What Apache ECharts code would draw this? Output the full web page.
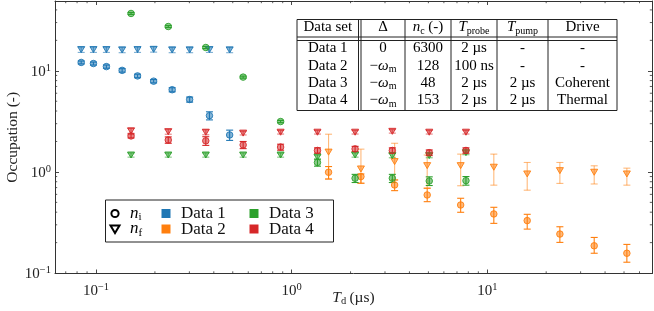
<!DOCTYPE html>
<html><head><meta charset="utf-8">
<script src="https://cdn.jsdelivr.net/npm/echarts@6/dist/echarts.min.js"></script>
<style>html,body{margin:0;padding:0;background:#fff}#c{width:654px;height:311px}</style>
</head><body><div id="c"></div>
<script>
// ---------- data ----------
const xMajorTicks = [0.1, 1, 10];
const yMajorTicks = [0.1, 1, 10];

// Data 1
const x1 = [0.084, 0.097, 0.113, 0.136, 0.163, 0.197, 0.245, 0.301, 0.380, 0.482];
const ni1 = [12.1, 11.8, 11.0, 10.1, 8.9, 7.9, 6.5, 5.2, 3.6, 2.32];
const ni1Err = [0.4, 0.4, 0.4, 0.4, 0.35, 0.3, 0.3, 0.3, 0.33, 0.27];
const nf1 = [16.2, 16.2, 16.2, 16.1, 16.2, 16.3, 16.1, 16.1, 16.2, 16.1];
const nf1Err = [1.0, 1.0, 1.0, 1.0, 1.0, 1.0, 1.0, 1.0, 1.0, 1.0];

// Data 2
const x2 = [1.544, 2.26, 3.36, 4.93, 7.31, 10.8, 16.0, 23.5, 35.2, 51.7];
const ni2 = [0.993, 0.899, 0.743, 0.592, 0.471, 0.384, 0.330, 0.243, 0.186, 0.157];
const ni2Lo = [0.85, 0.773, 0.653, 0.508, 0.399, 0.31, 0.272, 0.201, 0.157, 0.128];
const ni2Hi = [1.13, 0.955, 0.833, 0.69, 0.549, 0.447, 0.381, 0.287, 0.225, 0.192];
const nf2 = [1.57, 1.07, 1.265, 1.154, 1.154, 1.113, 0.955, 1.03, 0.993, 0.955];
const nf2Lo = [0.853, 0.773, 0.833, 0.69, 0.73, 0.74, 0.66, 0.77, 0.76, 0.74];
const nf2Hi = [2.36, 1.68, 1.92, 1.47, 1.50, 1.50, 1.24, 1.24, 1.15, 1.09];

// Data 3 and Data 4 (same delays)
const x34 = [0.151, 0.234, 0.364, 0.565, 0.878, 1.355, 2.11, 3.27, 5.05, 7.78];
const ni3 = [36.9, 27.4, 17.0, 8.66, 3.15, 1.24, 0.866, 0.866, 0.814, 0.82];
const ni3Err = [0.8, 0.6, 0.4, 0.2, 0.08, 0.1, 0.08, 0.08, 0.08, 0.08];
const nf3 = [1.47, 1.47, 1.47, 1.47, 1.47, 1.40, 1.47, 1.45, 1.45, 1.55];
const nf3Err = [0.07, 0.07, 0.07, 0.07, 0.07, 0.07, 0.07, 0.07, 0.07, 0.07];
const ni4 = [2.27, 2.07, 2.03, 1.85, 1.76, 1.63, 1.69, 1.63, 1.55, 1.63];
const ni4Err = [0.1, 0.15, 0.2, 0.15, 0.12, 0.1, 0.1, 0.1, 0.1, 0.1];
const nf4 = [2.55, 2.50, 2.47, 2.42, 2.47, 2.47, 2.47, 2.52, 2.47, 2.47];
const nf4Err = [0.14, 0.14, 0.14, 0.1, 0.1, 0.1, 0.1, 0.1, 0.1, 0.1];

// table
const tableHeader = ['Data set', 'Δ', 'n_c (-)', 'T_probe', 'T_pump', 'Drive'];
const tableRows = [
  ['Data 1', '0', '6300', '2 µs', '-', '-'],
  ['Data 2', '−ω_m', '128', '100 ns', '-', '-'],
  ['Data 3', '−ω_m', '48', '2 µs', '2 µs', 'Coherent'],
  ['Data 4', '−ω_m', '153', '2 µs', '2 µs', 'Thermal']
];
const legendNames = ['Data 1', 'Data 2', 'Data 3', 'Data 4'];
const colors = ['#1f77b4', '#ff7f0e', '#2ca02c', '#d62728'];

// ---------- chart ----------
const FONT = '"Liberation Serif", "DejaVu Serif", serif';
const XMIN = 0.0617, XMAX = 69.5, YMIN = 0.099, YMAX = 49;
const chart = echarts.init(document.getElementById('c'), null, {renderer: 'canvas'});

function hexA(hex, a) {
  const n = parseInt(hex.slice(1), 16);
  return `rgba(${(n >> 16) & 255},${(n >> 8) & 255},${n & 255},${a})`;
}
function supLabel(v) {
  const l = Math.log10(v), e = Math.round(l);
  if (Math.abs(l - e) > 1e-6) return '';
  return '{b|10}{s|' + (e < 0 ? '−' : '') + Math.abs(e) + '}';
}
const labelRich = {
  b: {fontSize: 15, fontFamily: FONT, color: '#222', verticalAlign: 'bottom', lineHeight: 17},
  s: {fontSize: 10.5, fontFamily: FONT, color: '#222', verticalAlign: 'top', lineHeight: 17}
};

function errSeries(xs, lo, hi, color, opacity) {
  return {
    type: 'custom', silent: true, z: 1, clip: false,
    encode: {x: 0, y: [1, 2]},
    data: xs.map((x, i) => [x, lo[i], hi[i]]),
    renderItem: (params, api) => {
      const x = api.value(0);
      const p1 = api.coord([x, api.value(1)]), p2 = api.coord([x, api.value(2)]);
      const cap = 3.5;
      const st = {stroke: color, lineWidth: 1.1, opacity: opacity};
      return {type: 'group', children: [
        {type: 'line', shape: {x1: p1[0], y1: p1[1], x2: p2[0], y2: p2[1]}, style: st},
        {type: 'line', shape: {x1: p1[0] - cap, y1: p1[1], x2: p1[0] + cap, y2: p1[1]}, style: st},
        {type: 'line', shape: {x1: p2[0] - cap, y1: p2[1], x2: p2[0] + cap, y2: p2[1]}, style: st}
      ]};
    }
  };
}
function symErr(xs, ys, err, color, opacity) {
  return errSeries(xs, ys.map((y, i) => y - err[i]), ys.map((y, i) => y + err[i]), color, opacity);
}
function markers(xs, ys, color, tri) {
  return {
    type: 'scatter', z: 3,
    data: xs.map((x, i) => [x, ys[i]]),
    symbol: tri ? 'triangle' : 'circle',
    symbolRotate: tri ? 180 : 0,
    symbolSize: tri ? [7, 6] : 6.5,
    itemStyle: {color: hexA(color, 0.55), borderColor: color, borderWidth: 0.9, opacity: 1}
  };
}

// minor ticks positions derived from decades
const xMinor = [], yMinor = [];
for (let k = -2; k <= 1; k++) for (let m = 2; m <= 9; m++) {
  const v = m * Math.pow(10, k);
  if (v > XMIN && v < XMAX) xMinor.push(v);
  if (v > YMIN && v < YMAX) yMinor.push(v);
}
function minorTickSeries(vals, isX) {
  return {
    type: 'custom', silent: true, clip: false, z: 5,
    data: vals.map(v => isX ? [v, 1] : [1, v]),
    renderItem: (params, api) => {
      const cs = params.coordSys;
      const p = api.coord([api.value(0), api.value(1)]);
      const L = 2.2, st = {stroke: '#333', lineWidth: 0.8};
      if (isX) {
        const b = cs.y + cs.height, t = cs.y;
        return {type: 'group', children: [
          {type: 'line', shape: {x1: p[0], y1: b, x2: p[0], y2: b - L}, style: st},
          {type: 'line', shape: {x1: p[0], y1: t, x2: p[0], y2: t + L}, style: st}
        ]};
      } else {
        const l = cs.x, r = cs.x + cs.width;
        return {type: 'group', children: [
          {type: 'line', shape: {x1: l, y1: p[1], x2: l + L, y2: p[1]}, style: st},
          {type: 'line', shape: {x1: r, y1: p[1], x2: r - L, y2: p[1]}, style: st}
        ]};
      }
    }
  };
}

const axisCommon = {
  type: 'log', logBase: 10,
  axisLine: {show: true, lineStyle: {color: '#333', width: 1}},
  axisTick: {show: true, inside: true, length: 4, lineStyle: {color: '#333', width: 0.9}},
  splitLine: {show: false}, minorTick: {show: false}
};

const series = [];
series.push(symErr(x1, nf1, nf1Err, colors[0], 0.6));
series.push(symErr(x1, ni1, ni1Err, colors[0], 1));
series.push(errSeries(x2, nf2Lo, nf2Hi, colors[1], 0.55));
series.push(errSeries(x2, ni2Lo, ni2Hi, colors[1], 1));
series.push(symErr(x34, nf3, nf3Err, colors[2], 0.6));
series.push(symErr(x34, ni3, ni3Err, colors[2], 1));
series.push(symErr(x34, nf4, nf4Err, colors[3], 0.6));
series.push(symErr(x34, ni4, ni4Err, colors[3], 1));
series.push(markers(x1, nf1, colors[0], true));
series.push(markers(x1, ni1, colors[0], false));
series.push(markers(x2, nf2, colors[1], true));
series.push(markers(x2, ni2, colors[1], false));
series.push(markers(x34, nf3, colors[2], true));
series.push(markers(x34, ni3, colors[2], false));
series.push(markers(x34, nf4, colors[3], true));
series.push(markers(x34, ni4, colors[3], false));
series.push(minorTickSeries(xMinor, true));
series.push(minorTickSeries(yMinor, false));

// ---------- table graphic ----------
const tabCols = [297, 361, 405, 451, 497, 548, 617];
const tabTop = 19.5, tabHeadBot = 37, tabBodyTop = 40.5, tabBot = 110.5;
const headY = 27.5;
const rowY = [48.5, 65.8, 83.2, 100.5];
const tg = [];
const lineSt = {stroke: '#222', lineWidth: 1};
tg.push({type: 'rect', shape: {x: tabCols[0], y: tabTop, width: tabCols[6] - tabCols[0], height: tabBot - tabTop}, style: {fill: '#fff', stroke: '#222', lineWidth: 1}});
tg.push({type: 'line', shape: {x1: tabCols[0], y1: tabHeadBot, x2: tabCols[6], y2: tabHeadBot}, style: lineSt});
tg.push({type: 'line', shape: {x1: tabCols[0], y1: tabBodyTop, x2: tabCols[6], y2: tabBodyTop}, style: lineSt});
tabCols.forEach((cx, i) => {
  if (i === 0 || i === 6) return;
  tg.push({type: 'line', shape: {x1: cx, y1: tabTop, x2: cx, y2: tabBot}, style: lineSt});
  if (i === 1) tg.push({type: 'line', shape: {x1: cx - 2.5, y1: tabTop, x2: cx - 2.5, y2: tabBot}, style: lineSt});
});
const TF = 15;
const cellRich = {
  n: {fontSize: TF, fontFamily: FONT, color: '#111'},
  i: {fontSize: TF, fontFamily: FONT, fontStyle: 'italic', color: '#111'},
  sub: {fontSize: 10, fontFamily: FONT, color: '#111', verticalAlign: 'bottom', padding: [7, 0, 0, 0]}
};
function cellText(s) {
  const m = s.match(/^(.*?)([nTω])_([a-z]+)(.*)$/);
  if (!m) return '{n|' + s + '}';
  let out = '';
  if (m[1]) out += '{n|' + m[1] + '}';
  out += '{i|' + m[2] + '}{sub|' + m[3] + '}';
  if (m[4]) out += '{n|' + m[4] + '}';
  return out;
}
function colCenter(i) { return i === 0 ? (tabCols[0] + tabCols[1] - 2.5) / 2 : (tabCols[i] + tabCols[i + 1]) / 2; }
tableHeader.forEach((h, i) => {
  tg.push({type: 'text', x: colCenter(i), y: headY,
    style: {text: cellText(h), rich: cellRich, align: 'center', verticalAlign: 'middle'}});
});
tableRows.forEach((r, ri) => r.forEach((c, i) => {
  tg.push({type: 'text', x: colCenter(i), y: rowY[ri],
    style: {text: cellText(c), rich: cellRich, align: 'center', verticalAlign: 'middle'}});
}));

// ---------- legend graphic ----------
const lg = [];
const LX = 105.5, LY = 200, LW = 228, LH = 42;
lg.push({type: 'rect', shape: {x: LX, y: LY, width: LW, height: LH}, style: {fill: '#fff', stroke: '#222', lineWidth: 1}});
const r1 = 213.5, r2 = 229;
lg.push({type: 'circle', shape: {cx: 115, cy: r1, r: 3.6}, style: {fill: 'none', stroke: '#000', lineWidth: 2}});
lg.push({type: 'polygon', shape: {points: [[110.5, r2 - 3.5], [119.5, r2 - 3.5], [115, r2 + 4]]}, style: {fill: 'none', stroke: '#000', lineWidth: 2}});
const LF = 17;
const legRich = {
  n: {fontSize: LF, fontFamily: FONT, color: '#111'},
  i: {fontSize: LF, fontFamily: FONT, fontStyle: 'italic', color: '#111'},
  sub: {fontSize: 11, fontFamily: FONT, color: '#111', verticalAlign: 'bottom', padding: [8, 0, 0, 0]}
};
lg.push({type: 'text', x: 130, y: r1, style: {text: '{i|n}{sub|i}', rich: legRich, verticalAlign: 'middle'}});
lg.push({type: 'text', x: 130, y: r2, style: {text: '{i|n}{sub|f}', rich: legRich, verticalAlign: 'middle'}});
const legPos = [[166, r1], [166, r2], [254, r1], [254, r2]];
legendNames.forEach((nm, i) => {
  const [px, py] = legPos[i];
  lg.push({type: 'rect', shape: {x: px - 4.5, y: py - 4.5, width: 9, height: 9}, style: {fill: colors[i]}});
  lg.push({type: 'text', x: px + 15, y: py + 0.5, style: {text: nm, font: LF + 'px ' + FONT, fill: '#111', verticalAlign: 'middle'}});
});

const nameRich = {
  n: {fontSize: 15.5, fontFamily: FONT, color: '#222'},
  i: {fontSize: 15.5, fontFamily: FONT, fontStyle: 'italic', color: '#222'},
  sub: {fontSize: 10.5, fontFamily: FONT, color: '#222', verticalAlign: 'bottom', padding: [7, 0, 0, 0]}
};
const option = {
  animation: false,
  backgroundColor: '#fff',
  grid: {left: 55, top: 1, right: 2, bottom: 37.5, containLabel: false, outerBoundsMode: 'none'},
  xAxis: [
    Object.assign({}, axisCommon, {
      position: 'bottom', min: XMIN, max: XMAX,
      axisLabel: {formatter: supLabel, rich: labelRich, margin: 8, showMinLabel: true, showMaxLabel: true},
      name: '{i|T}{sub|d} {n|(µs)}', nameLocation: 'middle', nameGap: 15, nameMoveOverlap: false,
      nameTextStyle: {rich: nameRich}
    }),
    Object.assign({}, axisCommon, {position: 'top', min: XMIN, max: XMAX, axisLabel: {show: false}})
  ],
  yAxis: [
    Object.assign({}, axisCommon, {
      position: 'left', min: YMIN, max: YMAX,
      axisLabel: {formatter: supLabel, rich: labelRich, margin: 4},
      name: 'Occupation (-)', nameLocation: 'middle', nameGap: 34, nameMoveOverlap: false,
      nameTextStyle: {fontSize: 15.5, fontFamily: FONT, color: '#222'}
    }),
    Object.assign({}, axisCommon, {position: 'right', min: YMIN, max: YMAX, axisLabel: {show: false}})
  ],
  series: series,
  graphic: [
    {type: 'group', children: tg, z: 100},
    {type: 'group', children: lg, z: 100}
  ]
};
chart.setOption(option);
</script>
</body></html>
